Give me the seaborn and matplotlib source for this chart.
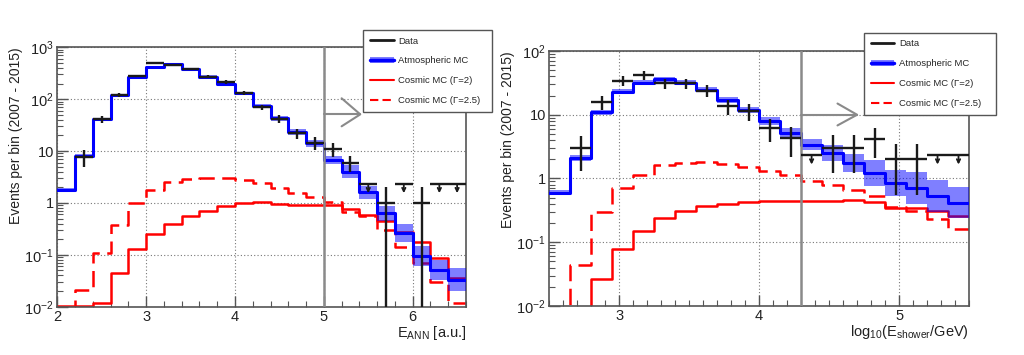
import matplotlib
matplotlib.use("Agg")
import matplotlib.pyplot as plt
import seaborn as sns
from matplotlib.lines import Line2D
from matplotlib.patches import Patch
from matplotlib.ticker import FixedLocator, FixedFormatter, MultipleLocator, LogLocator, NullFormatter

# ---------------- left panel: E_ANN ----------------
ann_edges = [2.0, 2.2, 2.4, 2.6, 2.8, 3.0, 3.2, 3.4, 3.6, 3.8, 4.0, 4.2,
             4.4, 4.6, 4.8, 5.0, 5.2, 5.4, 5.6, 5.8, 6.0, 6.2, 6.4, 6.6]
ann_atm = [1.8, 8.0, 41, 120, 270, 410, 470, 380, 270, 200, 130, 74,
           43, 23, 14, 6.8, 4.0, 1.6, 0.63, 0.26, 0.095, 0.051, 0.033]
ann_atm_dex = [0.04, 0.04, 0.03, 0.03, 0.03, 0.03, 0.03, 0.03, 0.03, 0.03, 0.03, 0.04,
               0.05, 0.06, 0.06, 0.08, 0.12, 0.13, 0.15, 0.17, 0.2, 0.2, 0.22]
ann_g2 = [0.0102, 0.0102, 0.012, 0.045, 0.13, 0.25, 0.4, 0.56, 0.7, 0.87, 1.0, 1.05,
          0.97, 0.93, 0.9, 0.9, 0.76, 0.59, 0.44, 0.28, 0.18, 0.086, 0.035]
ann_g25 = [0.005, 0.021, 0.11, 0.38, 1.0, 1.8, 2.5, 2.9, 3.0, 3.0, 2.75, 2.4,
           1.95, 1.55, 1.3, 1.05, 0.68, 0.55, 0.30, 0.144, 0.069, 0.030, 0.012]
ann_data_x = [2.3, 2.5, 2.7, 2.9, 3.1, 3.3, 3.5, 3.7, 3.9, 4.1, 4.3, 4.5,
              4.7, 4.9, 5.1, 5.3, 5.7, 6.1]
ann_data_y = [7.8, 41, 120, 280, 490, 460, 380, 270, 215, 134, 70, 42,
              22, 14.5, 11, 6.0, 1.0, 1.0]
ann_data_err = [2.8, 6.4, 11, 17, 22, 21, 19.5, 16.4, 14.7, 11.6, 8.4, 6.5,
                4.7, 3.8, 3.3, 2.0, 0.999, 0.999]
ann_ul_x = [5.5, 5.9, 6.3, 6.5]
ann_ul_y = [2.3, 2.3, 2.3, 2.3]
ann_cut = 5.0

# ---------------- right panel: log10(E_shower) ----------------
sh_edges = [2.5, 2.65, 2.8, 2.95, 3.1, 3.25, 3.4, 3.55, 3.7, 3.85, 4.0,
            4.15, 4.3, 4.45, 4.6, 4.75, 4.9, 5.05, 5.2, 5.35, 5.5]
sh_atm = [0.6, 2.1, 11, 23, 32, 36, 32, 24.5, 17, 12, 7.9,
          5.2, 3.4, 2.5, 1.75, 1.22, 0.85, 0.7, 0.53, 0.42]
sh_atm_dex = [0.04, 0.04, 0.04, 0.04, 0.04, 0.04, 0.04, 0.04, 0.05, 0.05, 0.06,
              0.07, 0.09, 0.13, 0.14, 0.2, 0.2, 0.25, 0.25, 0.24]
sh_g2 = [0.003, 0.006, 0.027, 0.078, 0.15, 0.24, 0.31, 0.37, 0.4, 0.43, 0.45,
         0.45, 0.45, 0.44, 0.46, 0.43, 0.35, 0.34, 0.31, 0.26]
sh_g25 = [0.004, 0.044, 0.3, 0.71, 1.15, 1.6, 1.75, 1.8, 1.7, 1.5, 1.33,
          1.13, 0.91, 0.8, 0.67, 0.53, 0.36, 0.31, 0.23, 0.16]
sh_data_x = [2.725, 2.875, 3.025, 3.175, 3.325, 3.475, 3.625, 3.775, 3.925, 4.075,
             4.225, 4.525, 4.675, 4.825, 4.975, 5.125]
sh_data_y = [3.0, 16, 34, 42, 31, 31, 24, 13.5, 11.5, 6.2,
             4.3, 3.0, 3.0, 4.1, 2.0, 2.0]
sh_data_err = [1.7, 4, 6, 6.5, 5.5, 5.5, 5, 3.7, 3.4, 2.5,
               2.1, 1.8, 1.8, 2.0, 1.45, 1.45]
sh_ul_x = [4.375, 5.275, 5.425]
sh_ul_y = [2.3, 2.3, 2.3]
sh_cut = 4.3

LABELS = ["Data", "Atmospheric MC", "Cosmic MC (\u0393=2)", "Cosmic MC (\u0393=2.5)"]
BLUE = "#0000ff"
RED = "#ff0000"
GRAY = "#8a8a8a"
FRAME = "#555555"

sns.set_theme(style="ticks")
plt.rcParams["font.family"] = ["Liberation Sans", "DejaVu Sans"]
plt.rcParams["mathtext.fontset"] = "custom"
plt.rcParams["mathtext.rm"] = "Liberation Sans"
plt.rcParams["mathtext.it"] = "Liberation Sans:italic"
plt.rcParams["mathtext.bf"] = "Liberation Sans:bold"


def steps(ax, edges, vals, **kw):
    y = list(vals) + [vals[-1]]
    sns.lineplot(x=edges, y=y, drawstyle="steps-post", estimator=None, sort=False,
                 legend=False, ax=ax, **kw)


def panel(ax, edges, atm, dex, g2, g25, dx, dy, derr, ulx, uly, cut, arrow, ylim, arrow_fac):
    ax.set_yscale("log")
    steps(ax, edges, g2, color=RED, linewidth=1.8, zorder=2)
    steps(ax, edges, g25, color=RED, linewidth=1.8, linestyle=(0, (6.5, 3)), zorder=2)
    lo = [v / 10 ** d for v, d in zip(atm, dex)]
    hi = [v * 10 ** d for v, d in zip(atm, dex)]
    ax.fill_between(edges, lo + [lo[-1]], hi + [hi[-1]], step="post",
                    color=BLUE, alpha=0.5, linewidth=0, zorder=3)
    steps(ax, edges, atm, color=BLUE, linewidth=2.2, zorder=4)

    hw = (edges[1] - edges[0]) / 2
    ax.errorbar(dx, dy, xerr=hw, yerr=derr, fmt="none", ecolor="k",
                elinewidth=1.7, capsize=0, zorder=6)
    ax.errorbar(ulx, uly, xerr=hw, fmt="none", ecolor="k", elinewidth=1.7, zorder=6)
    for x, y in zip(ulx, uly):
        ax.annotate("", xy=(x, y * arrow_fac), xytext=(x, y),
                    arrowprops=dict(arrowstyle="->", color="k", lw=1.3,
                                    mutation_scale=6, shrinkA=0, shrinkB=0),
                    zorder=6)

    # selection cut and arrow
    ax.axvline(cut, color=GRAY, linewidth=1.8, zorder=5)
    (x_tip, y_tip, x_arm, y_up, y_dn) = arrow
    ax.plot([cut, x_tip], [y_tip, y_tip], color=GRAY, lw=1.5, zorder=5)
    ax.plot([x_arm, x_tip, x_arm], [y_up, y_tip, y_dn], color=GRAY, lw=1.5, zorder=5)

    ax.set_xlim(edges[0], edges[-1])
    ax.set_ylim(*ylim)
    ax.grid(True, which="major", linestyle=(0, (1, 2)), color="#777777", linewidth=0.8)
    ax.yaxis.set_minor_locator(LogLocator(base=10, subs=range(2, 10)))
    ax.yaxis.set_minor_formatter(NullFormatter())
    ax.tick_params(which="both", direction="in", top=False, right=False,
                   colors=FRAME, labelcolor="#222222", labelsize=10.5, pad=2.5)
    ax.tick_params(which="major", length=8, width=1.0)
    ax.tick_params(which="minor", length=4.5, width=0.8)
    for s in ax.spines.values():
        s.set_color(FRAME)
        s.set_linewidth(1.2)
    ax.set_ylabel("Events per bin (2007 - 2015)", loc="top", fontsize=10, color="#222222")


fig = plt.figure(figsize=(10.24, 3.55), dpi=100)
ax1 = fig.add_axes([57.3 / 1024, 1 - 306.7 / 355, 408.7 / 1024, 259.4 / 355])
ax2 = fig.add_axes([549.3 / 1024, 1 - 306 / 355, 419.7 / 1024, 255 / 355])

panel(ax1, ann_edges, ann_atm, ann_atm_dex, ann_g2, ann_g25, ann_data_x, ann_data_y,
      ann_data_err, ann_ul_x, ann_ul_y, ann_cut, (5.41, 51, 5.2, 104, 30), (1e-2, 1e3), 0.67)
panel(ax2, sh_edges, sh_atm, sh_atm_dex, sh_g2, sh_g25, sh_data_x, sh_data_y,
      sh_data_err, sh_ul_x, sh_ul_y, sh_cut, (4.70, 10, 4.56, 15, 6.8), (1e-2, 1e2), 0.72)

ax1.xaxis.set_major_locator(FixedLocator([2, 3, 4, 5, 6]))
ax1.xaxis.set_minor_locator(MultipleLocator(0.2))
ax1.yaxis.set_major_locator(FixedLocator([1e-2, 1e-1, 1, 10, 1e2, 1e3]))
ax1.yaxis.set_major_formatter(FixedFormatter(
    ["$10^{-2}$", "$10^{-1}$", "1", "10", "$10^{2}$", "$10^{3}$"]))
ax1.set_xlabel(r"$\mathrm{E_{ANN}}$ [a.u.]", loc="right", fontsize=10.5,
               color="#222222", labelpad=0)
ax1.yaxis.set_label_coords(-0.085, 1.0)

ax2.xaxis.set_major_locator(FixedLocator([3, 4, 5]))
ax2.xaxis.set_minor_locator(MultipleLocator(0.1))
ax2.yaxis.set_major_locator(FixedLocator([1e-2, 1e-1, 1, 10, 1e2]))
ax2.yaxis.set_major_formatter(FixedFormatter(
    ["$10^{-2}$", "$10^{-1}$", "1", "10", "$10^{2}$"]))
ax2.set_xlabel(r"$\mathrm{log_{10}(E_{shower}/GeV)}$", loc="right", fontsize=10.5,
               color="#222222", labelpad=0)
ax2.yaxis.set_label_coords(-0.082, 1.0)

handles = [
    Line2D([], [], color="k", lw=2),
    (Patch(facecolor=BLUE, alpha=0.5, lw=0), Line2D([], [], color=BLUE, lw=2.5)),
    Line2D([], [], color=RED, lw=1.5),
    Line2D([], [], color=RED, lw=1.5, linestyle=(0, (4, 2))),
]

for ax, (x0, x1, y0, y1) in [(ax1, (363.3, 491.7, 30, 112.3)),
                             (ax2, (864, 996, 32.7, 113.3))]:
    leg = ax.legend(handles, LABELS, loc="upper left",
                    bbox_to_anchor=(x0 / 1024, 1 - y1 / 355, (x1 - x0) / 1024, (y1 - y0) / 355),
                    bbox_transform=fig.transFigure, mode="expand", fontsize=6.8,
                    frameon=True, fancybox=False, framealpha=1, edgecolor=FRAME,
                    handlelength=2.5, handletextpad=0.5, labelspacing=1.15,
                    borderpad=0.7, borderaxespad=0)
    leg.get_frame().set_linewidth(1.0)
    leg.set_zorder(10)

fig.savefig("out.png", dpi=100)
